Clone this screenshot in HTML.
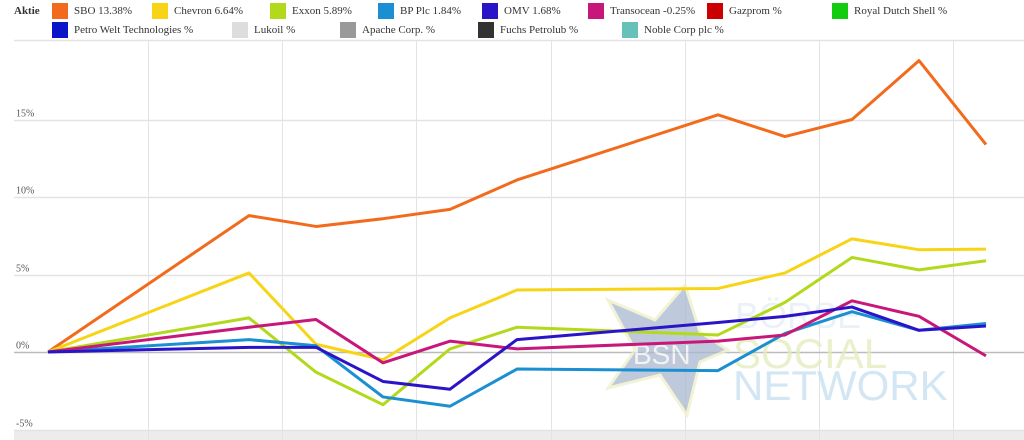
<!DOCTYPE html>
<html><head><meta charset="utf-8"><style>
body{margin:0;background:#fff;font-family:"Liberation Serif",serif;}
#wrap{position:relative;width:1024px;height:440px;overflow:hidden}
.lg{position:absolute;font-size:11px;color:#333;height:16px;line-height:16px}
.lg i{display:inline-block;width:16px;height:16px;vertical-align:top;margin-right:6px}
</style></head><body>
<div id="wrap">
<div class="lg" style="left:14px;top:3px;font-weight:bold">Aktie</div>
<div id="legend"></div>
<svg id="svg" width="1024" height="440" style="position:absolute;left:0;top:0"></svg>
</div>
<script>
const idx=[0,3,4,5,6,7,10,11,12,13,14];
const sbo=[0,8.8,8.1,8.6,9.2,11.1,15.3,13.9,15.0,18.8,13.38];
const chevron=[0,5.1,0.5,-0.5,2.2,4.0,4.1,5.1,7.3,6.6,6.64];
const exxon=[0,2.2,-1.3,-3.4,0.2,1.6,1.1,3.2,6.1,5.3,5.89];
const bp=[0,0.8,0.4,-2.9,-3.5,-1.1,-1.2,1.2,2.6,1.4,1.84];
const omv=[0,0.3,0.3,-1.9,-2.4,0.8,1.9,2.3,2.9,1.4,1.68];
const trans=[0,1.6,2.1,-0.7,0.7,0.2,0.7,1.1,3.3,2.3,-0.25];
const yTicks=[-5,0,5,10,15];
const legendNames=["SBO  13.38%","Chevron  6.64%","Exxon  5.89%","BP Plc  1.84%","OMV  1.68%","Transocean  -0.25%","Gazprom  %","Royal Dutch Shell  %","Petro Welt Technologies  %","Lukoil  %","Apache Corp.  %","Fuchs Petrolub  %","Noble Corp plc  %"];
const legendColors=["#f26b1d","#f7d416","#b3d91c","#1b8fd1","#2a14c8","#c8177a","#cc0000","#11cc11","#0a14c8","#dddddd","#999999","#333333","#66c2b8"];
const legendX=[52,152,270,378,482,588,707,832,52,232,340,478,622];

const X=i=>48+i*67, Y=v=>352-v*15.5;
const NS="http://www.w3.org/2000/svg";
const svg=document.getElementById('svg');
function mk(t,a){const e=document.createElementNS(NS,t);for(const k in a)e.setAttribute(k,a[k]);svg.appendChild(e);return e;}
// legend
const lg=document.getElementById('legend');
legendNames.forEach((n,i)=>{const d=document.createElement('div');d.className='lg';


d.style.left=legendX[i]+'px';d.style.top=(i<8?3:22)+'px';
d.innerHTML='<i style="background:'+legendColors[i]+'"></i>'+n;lg.appendChild(d);});
// background band
let band=mk('rect',{x:14,y:430,width:1010,height:10,fill:'#ececec'});


mk('line',{x1:14,x2:1024,y1:40.5,y2:40.5,stroke:'#e3e3e3','stroke-width':1.5});
[148,282,416,551,685,819,953].forEach(x=>{let l=mk('line',{x1:x+.5,x2:x+.5,y1:40,y2:440,stroke:'#e3e3e3'});

});
yTicks.forEach(t=>{const y=Math.round(Y(t))+.5;
let l=mk('line',{x1:14,x2:1024,y1:y,y2:y,stroke:t==0?'#bbb':'#e3e3e3','stroke-width':t==0?1.5:1.5});


let tx=mk('text',{x:16,y:y-4,'font-size':10,fill:'#555','font-family':'Liberation Serif, serif'});tx.textContent=t+'%';

});
// watermark
let g=mk('g',{opacity:0.75});


const star=[[685,285],[700,332],[728,350],[700,362],[687,415],[660,375],[608,388],[635,350],[608,300],[655,320]];
const sp=document.createElementNS(NS,'polygon');sp.setAttribute('points',star.map(p=>p.join(',')).join(' '));
sp.setAttribute('fill','#a9b8cf');sp.setAttribute('stroke','#eef0c8');sp.setAttribute('stroke-width','3');g.appendChild(sp);
[['BSN',633,364,28,'#f0f0f0'],['BÖRSE',735,328,36,'#e3eef6'],['SOCIAL',733,368,42,'#e2ebbb'],['NETWORK',733,400,42,'#c5def0']].forEach(a=>{
const t=document.createElementNS(NS,'text');t.setAttribute('x',a[1]);t.setAttribute('y',a[2]);t.setAttribute('font-size',a[3]);
t.setAttribute('fill',a[4]);t.setAttribute('font-family','Liberation Sans, sans-serif');t.textContent=a[0];g.appendChild(t);});
// series
const series=[[sbo,'#f26b1d','line-sbo'],[chevron,'#f7d416','line-chevron'],[exxon,'#b3d91c','line-exxon'],[bp,'#1b8fd1','line-bp'],[trans,'#c8177a','line-transocean'],[omv,'#2a14c8','line-omv']];
series.forEach(s=>{const p=mk('polyline',{points:s[0].map((v,k)=>X(idx[k])+','+Y(v)).join(' '),fill:'none',stroke:s[1],'stroke-width':3,'stroke-linejoin':'round'});

});
</script>
</body></html>
